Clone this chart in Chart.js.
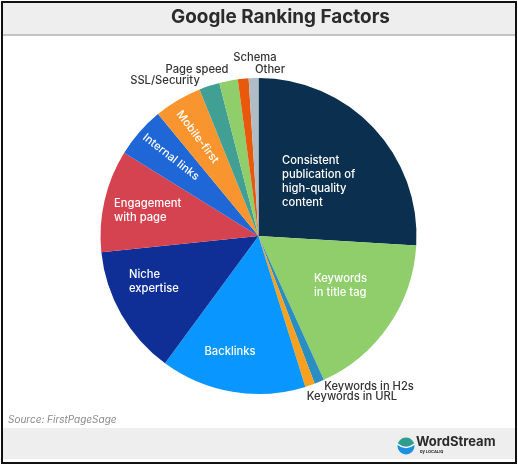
<!DOCTYPE html>
<html lang="en">
<head>
  <meta charset="UTF-8">
  <title>Google Ranking Factors</title>
  <script src="https://cdn.jsdelivr.net/npm/chart.js"></script>
  <style>
    html,body{margin:0;padding:0;background:#fff;}
    .chartBox{width:518px;height:465px;}
  </style>
</head>
<body>
  <div class="chartBox">
    <canvas id="myChart"></canvas>
  </div>
  <script>
    //data, clockwise from the top
    const categories = ['Consistent publication of high-quality content', 'Keywords in title tag', 'Keywords in H2s', 'Keywords in URL', 'Backlinks', 'Niche expertise', 'Engagement with page', 'Internal links', 'Mobile-first', 'SSL/Security', 'Page speed', 'Schema', 'Other'];
    const shares = [26, 17.3, 1, 1, 14.9, 13.3, 10.5, 5.2, 4.9, 2.1, 1.9, 1.1, 1];
    const sliceColors = ['#0b2f4e', '#8fce6a', '#2a8fc0', '#f9a01e', '#0a96ff', '#0f2f96', '#d4434f', '#1f66d6', '#f9952f', '#429f94', '#8fce6a', '#e8590c', '#b0bcc6'];

    //text drawn over and around the pie
    const FONT = 'Inter, "Noto Sans", sans-serif';
    const insideText = [
      {lines:['Consistent','publication of','high-quality','content'], x:282, y:161, align:'left'},
      {lines:['Keywords','in title tag'], x:314, y:279, align:'left'},
      {lines:['Backlinks'], x:230, y:352, align:'center'},
      {lines:['Niche','expertise'], x:129, y:275, align:'left'},
      {lines:['Engagement','with page'], x:114, y:204, align:'left'},
      {lines:['Internal links'], x:171, y:157, align:'center', rot:38},
      {lines:['Mobile-first'], x:197.5, y:137, align:'center', rot:53}
    ];
    const outsideText = [
      {text:'Schema', x:255, y:58},
      {text:'Other', x:270, y:70},
      {text:'Page speed', x:197, y:70},
      {text:'SSL/Security', x:165, y:81},
      {text:'Keywords in H2s', x:369, y:387},
      {text:'Keywords in URL', x:352, y:397}
    ];

    //frame, header and footer bands behind the chart
    const frame = {
      id:'frame',
      beforeDraw(chart){
        const {ctx} = chart;
        ctx.save();
        ctx.fillStyle = '#fff';
        ctx.fillRect(0,0,518,465);
        ctx.fillStyle = '#eeeeee';
        ctx.fillRect(3,3,512,31);
        ctx.fillRect(3,428,512,31);
        ctx.fillStyle = '#c4c4c4';
        ctx.fillRect(3,34,512,2);
        ctx.strokeStyle = '#111';
        ctx.lineWidth = 2;
        ctx.strokeRect(2,2,514,461);
        ctx.restore();
      }
    };

    const labels = {
      id:'labels',
      afterDraw(chart){
        const {ctx} = chart;
        ctx.save();
        ctx.textBaseline = 'middle';

        //title
        ctx.fillStyle = '#2b2b2b';
        ctx.textAlign = 'center';
        ctx.font = '700 18.9px ' + FONT;
        ctx.fillText('Google Ranking Factors', 280.5, 17);

        //inside
        ctx.fillStyle = '#fff';
        ctx.font = '500 11.2px ' + FONT;
        insideText.forEach(t => {
          ctx.save();
          ctx.translate(t.x, t.y);
          ctx.rotate((t.rot || 0) * Math.PI / 180);
          ctx.textAlign = t.align;
          t.lines.forEach((l, i) => ctx.fillText(l, 0, i * 14));
          ctx.restore();
        });

        //outside
        ctx.fillStyle = '#333';
        ctx.textAlign = 'center';
        ctx.font = '500 11.2px ' + FONT;
        outsideText.forEach(t => ctx.fillText(t.text, t.x, t.y));

        //source
        ctx.fillStyle = '#8a8a8a';
        ctx.textAlign = 'left';
        ctx.font = 'italic 400 10px ' + FONT;
        ctx.fillText('Source: FirstPageSage', 8, 420);

        //logo
        ctx.fillStyle = '#2f9e8f';
        ctx.beginPath();
        ctx.arc(406, 446, 8.5, Math.PI, 0);
        ctx.fill();
        ctx.fillStyle = '#1d8fe0';
        ctx.beginPath();
        ctx.arc(406, 446, 8.5, 0, Math.PI);
        ctx.fill();
        ctx.strokeStyle = '#fff';
        ctx.lineWidth = 1.6;
        ctx.beginPath();
        ctx.moveTo(397.5, 444);
        ctx.quadraticCurveTo(406, 451, 414.5, 444);
        ctx.stroke();
        ctx.fillStyle = '#2b2b2b';
        ctx.font = '700 13px ' + FONT;
        ctx.fillText('WordStream', 416, 442);
        ctx.font = '700 4px ' + FONT;
        ctx.fillText('by LOCALIQ', 420, 452);
        ctx.restore();
      }
    };

    //config
    const config = {
      type:'pie',
      data:{
        labels:categories,
        datasets:[{
          data:shares,
          backgroundColor:sliceColors,
          borderWidth:0
        }]
      },
      options:{
        responsive:false,
        animation:false,
        devicePixelRatio:1,
        layout:{padding:{left:100.5, right:101.5, top:78, bottom:71}},
        plugins:{legend:{display:false}, tooltip:{enabled:false}}
      },
      plugins:[frame, labels]
    };

    const canvas = document.getElementById('myChart');
    canvas.width = 518;
    canvas.height = 465;
    const myChart = new Chart(canvas, config);
  </script>
</body>
</html>
